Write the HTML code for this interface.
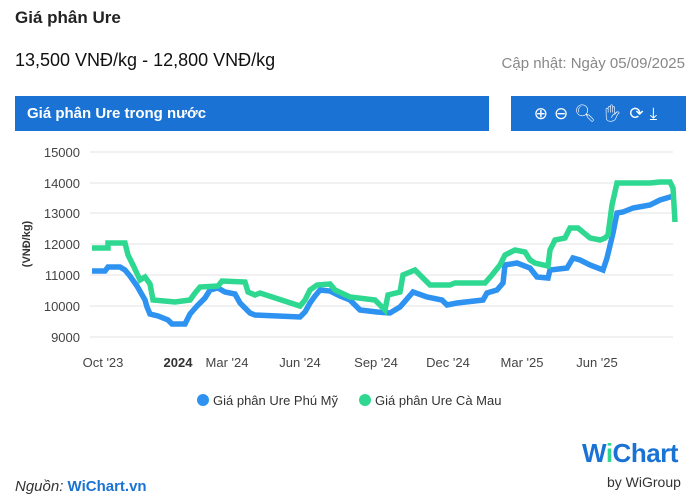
<!DOCTYPE html>
<html><head><meta charset="utf-8"><style>
body{margin:0;width:700px;height:499px;background:#fff;font-family:"Liberation Sans",sans-serif;position:relative;overflow:hidden}
.a{position:absolute;white-space:nowrap}
</style></head><body>
<div class="a" style="left:15px;top:8px;font-size:17px;font-weight:bold;color:#222">Giá phân Ure</div>
<div class="a" style="left:15px;top:50px;font-size:18px;color:#111">13,500 VNĐ/kg - 12,800 VNĐ/kg</div>
<div class="a" style="right:15px;top:55px;font-size:15px;color:#888">Cập nhật: Ngày 05/09/2025</div>
<div class="a" style="left:15px;top:96px;width:474px;height:35px;background:#1a73d4;color:#fff;font-size:15px;font-weight:bold;line-height:35px;padding-left:12px;box-sizing:border-box">Giá phân Ure trong nước</div>
<div class="a" style="left:511px;top:96px;width:175px;height:35px;background:#1a73d4;color:#fff;font-size:17px;line-height:35px;text-align:center;letter-spacing:6px">⊕⊖🔍︎✋︎⟳⤓</div>
<svg class="a" style="left:0;top:0" width="700" height="499">
<g stroke="#e3e3e3" stroke-width="1">
<line x1="90" x2="673" y1="152" y2="152"/><line x1="90" x2="673" y1="183" y2="183"/><line x1="90" x2="673" y1="213" y2="213"/><line x1="90" x2="673" y1="244" y2="244"/><line x1="90" x2="673" y1="275" y2="275"/><line x1="90" x2="673" y1="306" y2="306"/><line x1="90" x2="673" y1="337" y2="337"/>
</g>
<g font-size="13" fill="#444" text-anchor="end">
<text x="80" y="157">15000</text><text x="80" y="188">14000</text><text x="80" y="218">13000</text><text x="80" y="249">12000</text><text x="80" y="280">11000</text><text x="80" y="311">10000</text><text x="80" y="342">9000</text>
</g>
<text transform="translate(30,244) rotate(-90)" font-size="11" font-weight="bold" fill="#333" text-anchor="middle">(VNĐ/kg)</text>
<g font-size="13" fill="#444" text-anchor="middle">
<text x="103" y="367">Oct '23</text><text x="178" y="367" font-weight="bold" fill="#333">2024</text><text x="227" y="367">Mar '24</text><text x="300" y="367">Jun '24</text><text x="376" y="367">Sep '24</text><text x="448" y="367">Dec '24</text><text x="522" y="367">Mar '25</text><text x="597" y="367">Jun '25</text>
</g>
<polyline fill="none" stroke="#2e93f0" stroke-width="5.5" stroke-linejoin="miter" points="92,271 105,271 108,267 120,267 125,270 130,276 137,286 145,300 147,307 150,314 158,316 168,320 172,324 185,324 190,314 197,306 205,298 210,290 218,288 225,292 235,294 240,303 245,308 250,313 255,315 300,317 305,312 310,303 315,296 320,290 330,291 340,296 350,300 360,310 377,312 390,313 400,307 413,292 427,297 442,300 447,305 457,303 483,300 487,293 497,290 503,283 505,265 517,263 530,268 537,277 548,278 550,270 567,268 573,258 580,260 590,265 603,270 607,258 613,233 617,213 623,212 633,208 650,205 660,200 670,197 675,195"/>
<polyline fill="none" stroke="#2ed891" stroke-width="5.5" stroke-linejoin="miter" points="92,248 108,248 108,243 125,243 128,255 133,265 140,280 145,277 150,284 153,300 175,302 190,300 195,293 200,287 218,286 222,281 245,282 248,292 255,295 260,293 300,306 305,300 310,290 317,285 330,284 335,290 350,297 375,300 385,310 388,295 400,292 403,275 415,270 425,280 430,285 450,285 455,283 485,283 492,275 500,265 505,255 515,250 525,252 530,260 535,263 548,266 550,250 555,240 565,238 570,228 578,228 590,238 600,240 605,238 608,235 612,205 617,183 630,183 650,183 660,182 670,182 673,188 675,222"/>
<circle cx="203" cy="400" r="6" fill="#2e93f0"/><text x="213" y="405" font-size="13" fill="#333">Giá phân Ure Phú Mỹ</text>
<circle cx="365" cy="400" r="6" fill="#2ed891"/><text x="375" y="405" font-size="13" fill="#333">Giá phân Ure Cà Mau</text>
</svg>
<div class="a" style="left:15px;top:478px;font-size:15px;color:#333"><i>Nguồn: </i><b style="color:#1a73d4">WiChart.vn</b></div>
<div class="a" style="left:582px;top:438px;font-size:26px;font-weight:bold;color:#1a73d4;letter-spacing:-0.5px">W<span style="color:#2ed891">i</span>Chart</div>
<div class="a" style="left:607px;top:474px;font-size:14px;color:#333">by WiGroup</div>
</body></html>
